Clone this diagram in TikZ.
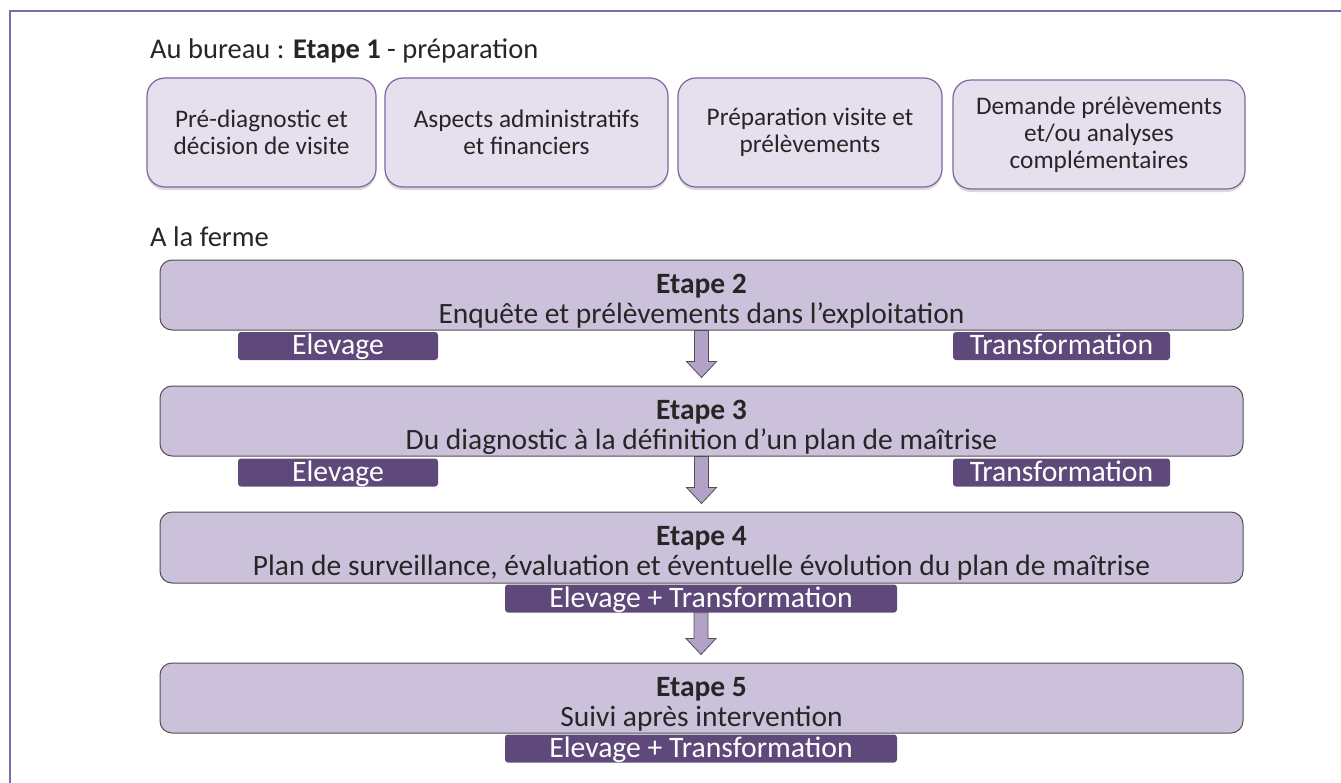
\documentclass[tikz,border=0pt]{standalone}
\usepackage{fontspec}
\setmainfont{Carlito}
\usetikzlibrary{shadows,calc}
\definecolor{topfill}{HTML}{E6E0EE}
\definecolor{topborder}{HTML}{8064A2}
\definecolor{bigfill}{HTML}{CCC1DA}
\definecolor{bigborder}{HTML}{505050}
\definecolor{tagfill}{HTML}{5F497A}
\definecolor{arrfill}{HTML}{B3A2C7}
\definecolor{framecol}{HTML}{7F6AA5}
\definecolor{txt}{HTML}{262626}
\begin{document}
\begin{tikzpicture}[x=1pt,y=-1pt,
  topbox/.style={draw=topborder, fill=topfill, line width=1.2pt, rounded corners=18pt,
    minimum height=109pt, align=center, text=txt, inner sep=0pt,
    font=\fontsize{25.3}{27}\selectfont,
    drop shadow={shadow xshift=0pt, shadow yshift=-3pt, opacity=0.25, fill=black!60}},
  bigbox/.style={draw=bigborder, fill=bigfill, line width=1pt, rounded corners=12pt,
    minimum width=1083pt, align=center, text=txt, inner sep=0pt,
    text height=56pt, text depth=0pt,
    font=\fontsize{29.5}{30}\selectfont},
  tagbox/.style={fill=tagfill, rounded corners=3pt, minimum height=28pt, text=white,
    inner sep=0pt, text height=21pt, text depth=4pt, font=\fontsize{29.7}{30}\selectfont},
  heading/.style={anchor=west, text=txt, inner sep=0pt, font=\fontsize{28.5}{30}\selectfont},
  bigarrow/.style={draw=bigborder, fill=arrfill, line width=0.8pt, line join=miter}
]
\useasboundingbox (0,0) rectangle (1341,782);
% frame
\draw[framecol, line width=2pt] (10,800) -- (10,11) -- (1360,11);

\node[heading] (h1) at (150,51) {Au bureau : \textbf{Etape 1} - préparation};

\node[topbox, minimum width=229pt] (b1) at (261.5,132.5) {Pré-diagnostic et\\décision de visite};
\node[topbox, minimum width=283pt] (b2) at (526.5,132.5) {Aspects administratifs\\et financiers};
\node[topbox, minimum width=264pt] (b3) at (810,132.5) {Préparation visite et\\prélèvements};
\node[topbox, minimum width=292pt] (b4) at (1099,134.5) {Demande prélèvements\\et/ou analyses\\complémentaires};

\node[heading] (h2) at (150,237) {A la ferme};

\node[bigbox, minimum height=70pt] (e2) at (701.5,295) {\textbf{Etape 2}\\Enquête et prélèvements dans l’exploitation};
\node[tagbox, minimum width=200pt] (t2a) at (338,346) {Elevage};
\node[tagbox, minimum width=217pt] (t2b) at (1061.5,346) {Transformation};

\node[bigbox, minimum height=70pt] (e3) at (701.5,421) {\textbf{Etape 3}\\Du diagnostic à la définition d’un plan de maîtrise};
\node[tagbox, minimum width=200pt] (t3a) at (338,472.5) {Elevage};
\node[tagbox, minimum width=217pt] (t3b) at (1061.5,472.5) {Transformation};

\node[bigbox, minimum height=71pt] (e4) at (701.5,547.5) {\textbf{Etape 4}\\Plan de surveillance, évaluation et éventuelle évolution du plan de maîtrise};
\node[tagbox, minimum width=392pt] (t4) at (701,598.5) {Elevage + Transformation};

\node[bigbox, minimum height=70pt] (e5) at (701.5,698) {\textbf{Etape 5}\\Suivi après intervention};
\node[tagbox, minimum width=392pt] (t5) at (701,748.5) {Elevage + Transformation};

% arrows
\draw[bigarrow] let \p1=(e2.south), \p2=(e3.north) in
  (\x1-7pt,\y1) -- (\x1+7pt,\y1) -- (\x1+7pt,\y2+24pt) -- (\x1+15pt,\y2+24pt) -- (\x1,\y2+8pt)
  -- (\x1-15pt,\y2+24pt) -- (\x1-7pt,\y2+24pt) -- cycle;
\draw[bigarrow] let \p1=(e3.south), \p2=(e4.north) in
  (\x1-7pt,\y1) -- (\x1+7pt,\y1) -- (\x1+7pt,\y2+24pt) -- (\x1+15pt,\y2+24pt) -- (\x1,\y2+8pt)
  -- (\x1-15pt,\y2+24pt) -- (\x1-7pt,\y2+24pt) -- cycle;
\draw[bigarrow] let \p1=(t4.south), \p2=(e5.north) in
  (\x1-7pt,\y1) -- (\x1+7pt,\y1) -- (\x1+7pt,\y2+24pt) -- (\x1+15pt,\y2+24pt) -- (\x1,\y2+8pt)
  -- (\x1-15pt,\y2+24pt) -- (\x1-7pt,\y2+24pt) -- cycle;
\end{tikzpicture}
\end{document}
